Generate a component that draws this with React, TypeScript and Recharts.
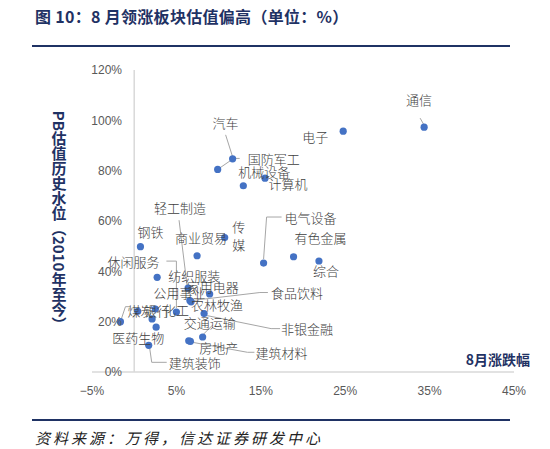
import React from "react";
import {
  ScatterChart,
  Scatter,
  XAxis,
  YAxis,
  ReferenceLine,
  Label,
} from "recharts";

/* 8月申万行业涨跌幅 vs PB 估值历史分位（2010 年至今） */

const industries = [
  "通信", "电子", "汽车", "国防军工", "机械设备", "计算机", "钢铁",
  "轻工制造", "传媒", "商业贸易", "电气设备", "有色金属", "综合",
  "纺织服装", "休闲服务", "家用电器", "公用事业", "食品饮料", "农林牧渔",
  "银行", "化工", "煤炭", "非银金融", "交通运输", "医药生物", "房地产",
  "建筑材料", "建筑装饰",
];
// 8月涨跌幅 (%)
const augChange = [
  34.35, 24.76, 11.66, 9.89, 12.93, 15.5, 0.74,
  6.38, 10.72, 7.45, 15.33, 18.88, 21.89,
  2.72, 5.0, 8.94, 2.51, 6.6, 6.74,
  0.42, 2.12, -1.63, 8.28, 8.11, 2.6, 6.46,
  6.66, 1.72,
];
// PB 估值历史水位 (%)
const pbLevel = [
  97.3, 95.7, 84.7, 80.5, 74.0, 77.0, 49.8,
  33.3, 53.4, 46.2, 43.3, 45.8, 44.1,
  37.6, 23.8, 31.0, 25.0, 28.4, 27.9,
  24.1, 21.1, 20.0, 23.2, 13.9, 17.8, 12.4,
  12.2, 10.6,
];
const xTicks = [-5, 5, 15, 25, 35, 45];
const yTicks = [0, 20, 40, 60, 80, 100, 120];

const rows = industries.map((name, i) => ({ name, x: augChange[i], y: pbLevel[i] }));

// label placement relative to the dot, plus optional leader line
type Lay = { dx: number; dy: number; leader?: number[][]; lines?: string[] };
const labelLayout: Record<string, Lay> = {
  通信: { dx: -5, dy: -28, leader: [[-4, -9], [0, -2]] },
  电子: { dx: -28, dy: 5 },
  汽车: { dx: -7, dy: -36, leader: [[-7, -24], [0, -2]] },
  国防军工: { dx: 56, dy: -11, leader: [[0, 0], [16, -11], [22, -11]] },
  机械设备: { dx: 21, dy: -14 },
  计算机: { dx: 23, dy: 5 },
  钢铁: { dx: 10, dy: -15 },
  轻工制造: { dx: -8, dy: -81, leader: [[-9, -68], [-1, -3]] },
  传媒: { dx: 14, dy: -2, lines: ["传", "媒"] },
  商业贸易: { dx: 4, dy: -18 },
  电气设备: { dx: 47, dy: -46, leader: [[18, -46], [3, -46], [0, -4]] },
  有色金属: { dx: 27, dy: -19 },
  综合: { dx: 7, dy: 9 },
  纺织服装: { dx: 37, dy: -2 },
  休闲服务: { dx: -43, dy: -51, leader: [[-10, -51], [0, -51], [0, -4]] },
  家用电器: { dx: 3, dy: -7 },
  公用事业: { dx: 24, dy: -17 },
  食品饮料: { dx: 107, dy: -8, leader: [[78, -8], [70, -8], [2, 0]] },
  农林牧渔: { dx: 26, dy: 3 },
  银行: { dx: 19, dy: -1 },
  化工: { dx: 24, dy: -9 },
  煤炭: { dx: 20, dy: -11, leader: [[1, -3], [5, -15], [10, -15]] },
  非银金融: { dx: 103, dy: 15, leader: [[3, 2], [67, 15], [76, 15]] },
  交通运输: { dx: 7, dy: -15, leader: [[1, -3], [10, -12]] },
  医药生物: { dx: -18, dy: 10 },
  房地产: { dx: 30, dy: 7 },
  建筑材料: { dx: 91, dy: 11, leader: [[2, 1], [57, 11], [64, 11]] },
  建筑装饰: { dx: 46, dy: 17, leader: [[1, 3], [3, 17], [18, 17]] },
};

const NAVY = "#1f3264";
const CJK = "'Noto Sans CJK SC', 'Noto Sans', sans-serif";

const pct = (v: number) => (v < 0 ? `−${Math.abs(v)}%` : `${v}%`);

function LeaderShape(p: any) {
  const lay = labelLayout[p.payload?.name];
  if (!lay?.leader) return <g />;
  const pts = lay.leader.map(([a, b]) => `${p.cx + a},${p.cy + b}`).join(" ");
  return <polyline points={pts} fill="none" stroke="#a6a6a6" strokeWidth={1} />;
}

function DotShape(p: any) {
  return <circle cx={p.cx} cy={p.cy} r={3.6} fill="#4472c4" />;
}

function TextShape(p: any) {
  const name = p.payload?.name;
  const lay = labelLayout[name] ?? { dx: 20, dy: 0 };
  const lines = lay.lines ?? [name];
  const lh = 18;
  const y0 = p.cy + lay.dy - ((lines.length - 1) * lh) / 2;
  return (
    <g>
      {lines.map((t, i) => (
        <text
          key={i}
          x={p.cx + lay.dx}
          y={y0 + i * lh}
          textAnchor="middle"
          dominantBaseline="central"
          fontFamily={CJK}
          fontSize={13}
          fontWeight={300}
          fill="#404040"
        >
          {t}
        </text>
      ))}
    </g>
  );
}

export default function App() {
  return (
    <div
      style={{
        position: "absolute",
        left: 0,
        top: 0,
        width: 550,
        height: 449,
        background: "#fff",
        fontFamily: CJK,
      }}
    >
      <div
        style={{
          position: "absolute",
          left: 35,
          top: 4,
          fontSize: 16,
          fontWeight: 700,
          color: NAVY,
          letterSpacing: 0.3,
          whiteSpace: "pre",
        }}
      >
        图 10：8 月领涨板块估值偏高（单位：%）
      </div>
      <div style={{ position: "absolute", left: 32, top: 44.5, width: 478, height: 2.5, background: NAVY }} />
      <ScatterChart
        width={550}
        height={449}
        margin={{ top: 70, right: 36, bottom: 0, left: 0 }}
      >
        <XAxis
          type="number"
          dataKey="x"
          domain={[-5, 45]}
          ticks={xTicks}
          tickFormatter={pct}
          axisLine={{ stroke: "#d9d9d9", strokeWidth: 1.5 }}
          tickLine={false}
          tickMargin={8}
          height={77}
          tick={{ fill: "#595959", fontSize: 12, fontFamily: "'Liberation Sans', sans-serif" }}
        >
          <Label
            content={({ viewBox }: any) => (
              <text
                x={viewBox.x + viewBox.width + 16}
                y={viewBox.y - 13}
                textAnchor="end"
                dominantBaseline="central"
                fontFamily={CJK}
                fontSize={14}
                fontWeight={700}
                fill={NAVY}
              >
                8月涨跌幅
              </text>
            )}
          />
        </XAxis>
        <YAxis
          type="number"
          dataKey="y"
          domain={[0, 120]}
          ticks={yTicks}
          tickFormatter={(v: number) => `${v}%`}
          axisLine={false}
          tickLine={false}
          width={92}
          tick={{ fill: "#595959", fontSize: 12, dx: 38, fontFamily: "'Liberation Sans', sans-serif" }}
        >
          <Label
            content={({ viewBox }: any) => (
              <text
                x={viewBox.x + 59}
                y={viewBox.y + viewBox.height / 2}
                textAnchor="middle"
                fontFamily={CJK}
                fontSize={15}
                fontWeight={700}
                fill={NAVY}
                style={{ writingMode: "vertical-rl", textOrientation: "mixed" } as any}
              >
                PB估值历史水位（2010年至今）
              </text>
            )}
          />
        </YAxis>
        <ReferenceLine x={0} stroke="#d9d9d9" strokeWidth={1.5} />
        <Scatter data={rows} shape={LeaderShape} isAnimationActive={false} />
        <Scatter data={rows} shape={DotShape} isAnimationActive={false} />
        <Scatter data={rows} shape={TextShape} isAnimationActive={false} />
      </ScatterChart>
      <div style={{ position: "absolute", left: 32, top: 419, width: 478, height: 2, background: NAVY }} />
      <div
        style={{
          position: "absolute",
          left: 35,
          top: 427,
          fontSize: 15,
          fontStyle: "italic",
          letterSpacing: 3,
          color: "#222",
          whiteSpace: "nowrap",
        }}
      >
        资料来源：万得，信达证券研发中心
      </div>
    </div>
  );
}
